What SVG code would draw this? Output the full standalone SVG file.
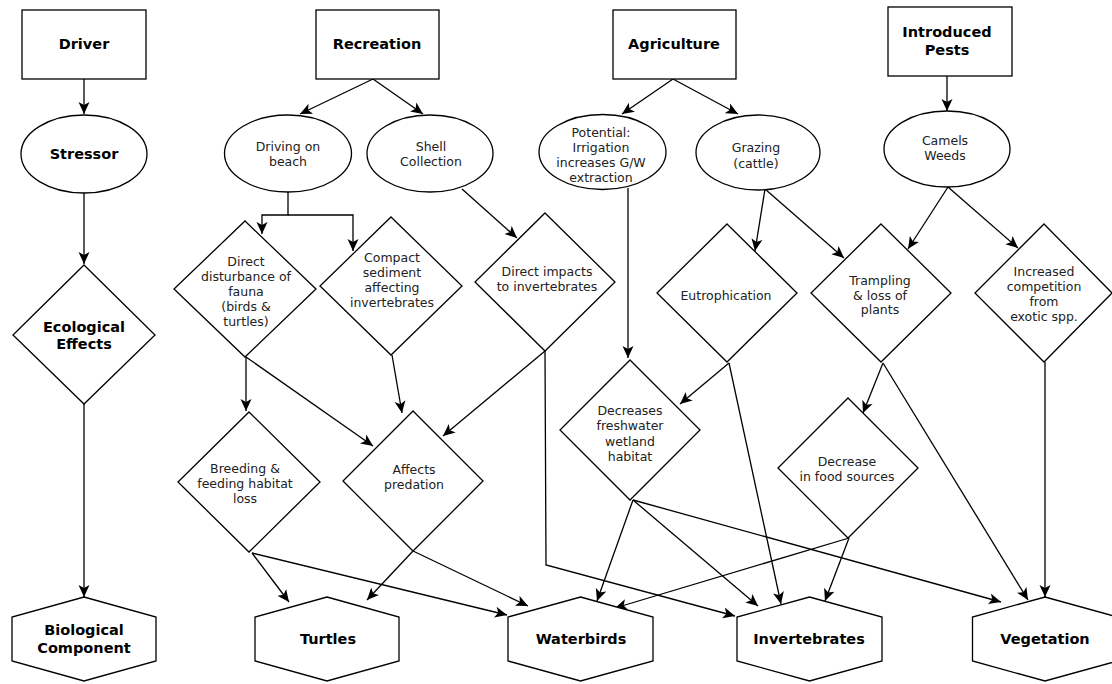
<svg xmlns="http://www.w3.org/2000/svg" width="1112" height="684" viewBox="0 0 1112 684">
<defs>
<marker id="ah" markerUnits="userSpaceOnUse" markerWidth="13" markerHeight="12" refX="12" refY="5.5" orient="auto" viewBox="0 0 13 11">
<path d="M0,0 L12,5.5 L0,11 L3,5.5 z" fill="#000"/>
</marker>
<style>
.n{fill:#fff;stroke:#000;stroke-width:1.3}
.c{fill:none;stroke:#000;stroke-width:1.3;marker-end:url(#ah)}
.t{font-family:"DejaVu Sans",Verdana,sans-serif;font-size:12.5px;fill:#222;text-anchor:middle;dominant-baseline:central}
.b{font-family:"DejaVu Sans",Verdana,sans-serif;font-size:14.5px;font-weight:bold;fill:#000;text-anchor:middle;dominant-baseline:central}
</style>
</defs>
<rect width="1112" height="684" fill="#fff"/>
<g id="connectors">
<path class="c" d="M84,79 V114"/>
<path class="c" d="M84,193 V264"/>
<path class="c" d="M84,404 V597"/>
<path class="c" d="M373,79 L300,114"/>
<path class="c" d="M373,79 L423,114"/>
<path class="c" d="M673,79 L622,114"/>
<path class="c" d="M673,79 L738,114"/>
<path class="c" d="M947,76 V111"/>
<path class="c" d="M288,192 V215 H262 V234"/>
<path class="c" d="M288,215 H353 V251"/>
<path class="c" d="M462,189 L517,238"/>
<path class="c" d="M628,188 V358"/>
<path class="c" d="M765,189 L755,251"/>
<path class="c" d="M765,189 L844,258"/>
<path class="c" d="M948,187 L908,249"/>
<path class="c" d="M948,187 L1018,248"/>
<path class="c" d="M246,357 V411"/>
<path class="c" d="M246,357 L373,446"/>
<path class="c" d="M392,355 L402,413"/>
<path class="c" d="M545,351 L443,436"/>
<path class="c" d="M545,351 L546,565 L735,616"/>
<path class="c" d="M729,363 L680,404"/>
<path class="c" d="M729,363 L781,604"/>
<path class="c" d="M883,363 L863,413"/>
<path class="c" d="M883,363 L1028,600"/>
<path class="c" d="M1045,362 V597"/>
<path class="c" d="M252,553 L289,602"/>
<path class="c" d="M252,553 L507,615"/>
<path class="c" d="M413,551 L367,600"/>
<path class="c" d="M413,551 L528,606"/>
<path class="c" d="M633,500 L597,601"/>
<path class="c" d="M633,500 L758,606"/>
<path class="c" d="M633,500 L1001,602"/>
<path class="c" d="M849,538 L825,601"/>
<path class="c" d="M849,538 L615,608"/>
</g>
<g id="driver"><rect class="n" x="22" y="10" width="124" height="69"/><text class="b" x="84" y="44">Driver</text></g>
<g id="recreation"><rect class="n" x="316" y="10" width="123" height="69"/><text class="b" x="377" y="44">Recreation</text></g>
<g id="agriculture"><rect class="n" x="613" y="10" width="123" height="69"/><text class="b" x="674" y="44">Agriculture</text></g>
<g id="pests"><rect class="n" x="888" y="7" width="124" height="69"/><text class="b" x="947" y="32">Introduced</text><text class="b" x="947" y="50">Pests</text></g>
<g id="stressor"><ellipse class="n" cx="84" cy="154" rx="63" ry="39"/><text class="b" x="84" y="154">Stressor</text></g>
<g id="driving"><ellipse class="n" cx="288" cy="153.5" rx="63.5" ry="38.5"/><text class="t" x="288" y="146">Driving on</text><text class="t" x="288" y="161">beach</text></g>
<g id="shell"><ellipse class="n" cx="430" cy="153.5" rx="63" ry="38.5"/><text class="t" x="431" y="146">Shell</text><text class="t" x="431" y="161">Collection</text></g>
<g id="potential"><ellipse class="n" cx="602.5" cy="152" rx="63.5" ry="37.5"/><text class="t" x="601" y="132">Potential:</text><text class="t" x="601" y="147">Irrigation</text><text class="t" x="601" y="162">increases G/W</text><text class="t" x="601" y="177">extraction</text></g>
<g id="grazing"><ellipse class="n" cx="758" cy="152.5" rx="62" ry="37.5"/><text class="t" x="756" y="147">Grazing</text><text class="t" x="756" y="163">(cattle)</text></g>
<g id="camels"><ellipse class="n" cx="947" cy="149" rx="63" ry="38"/><text class="t" x="945" y="140">Camels</text><text class="t" x="945" y="155">Weeds</text></g>
<g id="ecological"><polygon class="n" points="84,265 155,335 84,404 13,335"/><text class="b" x="84" y="327">Ecological</text><text class="b" x="84" y="344">Effects</text></g>
<g id="disturbance"><polygon class="n" points="245,221 316,289 245,357 174,289"/><text class="t" x="246" y="261">Direct</text><text class="t" x="246" y="276">disturbance of</text><text class="t" x="246" y="291">fauna</text><text class="t" x="246" y="306">(birds &amp;</text><text class="t" x="246" y="321">turtles)</text></g>
<g id="compact"><polygon class="n" points="391,217 462,286 391,355 320,286"/><text class="t" x="392" y="257">Compact</text><text class="t" x="392" y="272">sediment</text><text class="t" x="392" y="287">affecting</text><text class="t" x="392" y="302">invertebrates</text></g>
<g id="impacts"><polygon class="n" points="545,213 615,282 545,351 475,282"/><text class="t" x="547" y="271">Direct impacts</text><text class="t" x="547" y="286">to invertebrates</text></g>
<g id="eutrophication"><polygon class="n" points="727,224 797,293 727,362 657,293"/><text class="t" x="726" y="295">Eutrophication</text></g>
<g id="trampling"><polygon class="n" points="881,224 951,293 881,362 811,293"/><text class="t" x="880" y="280">Trampling</text><text class="t" x="880" y="295">&amp; loss of</text><text class="t" x="880" y="309">plants</text></g>
<g id="competition"><polygon class="n" points="1044,224 1112,293 1044,362 975,293"/><text class="t" x="1044" y="271">Increased</text><text class="t" x="1044" y="286">competition</text><text class="t" x="1044" y="301">from</text><text class="t" x="1044" y="316">exotic spp.</text></g>
<g id="breeding"><polygon class="n" points="249,412 320,482 249,552 178,482"/><text class="t" x="245" y="468">Breeding &amp;</text><text class="t" x="245" y="483">feeding habitat</text><text class="t" x="245" y="498">loss</text></g>
<g id="predation"><polygon class="n" points="413,411 483,481 413,551 343,481"/><text class="t" x="414" y="469">Affects</text><text class="t" x="414" y="484">predation</text></g>
<g id="freshwater"><polygon class="n" points="630,360 700,430 630,500 560,430"/><text class="t" x="630" y="410">Decreases</text><text class="t" x="630" y="425">freshwater</text><text class="t" x="630" y="441">wetland</text><text class="t" x="630" y="456">habitat</text></g>
<g id="food"><polygon class="n" points="848,398 918,468 848,538 778,468"/><text class="t" x="847" y="461">Decrease</text><text class="t" x="847" y="476">in food sources</text></g>
<g id="biological"><polygon class="n" points="84,597 156,617 156,661 84,681 12,661 12,617"/><text class="b" x="84" y="630">Biological</text><text class="b" x="84" y="648">Component</text></g>
<g id="turtles"><polygon class="n" points="327,597 399,617 399,661 327,681 255,661 255,617"/><text class="b" x="328" y="639">Turtles</text></g>
<g id="waterbirds"><polygon class="n" points="580.5,597 653,617 653,661 580.5,681 508,661 508,617"/><text class="b" x="581" y="639">Waterbirds</text></g>
<g id="invertebrates"><polygon class="n" points="809.5,597 882,617 882,661 809.5,681 737,661 737,617"/><text class="b" x="809" y="639">Invertebrates</text></g>
<g id="vegetation"><polygon class="n" points="1045,597 1117.5,617 1117.5,661 1045,681 972.5,661 972.5,617"/><text class="b" x="1045" y="639">Vegetation</text></g>
</svg>
